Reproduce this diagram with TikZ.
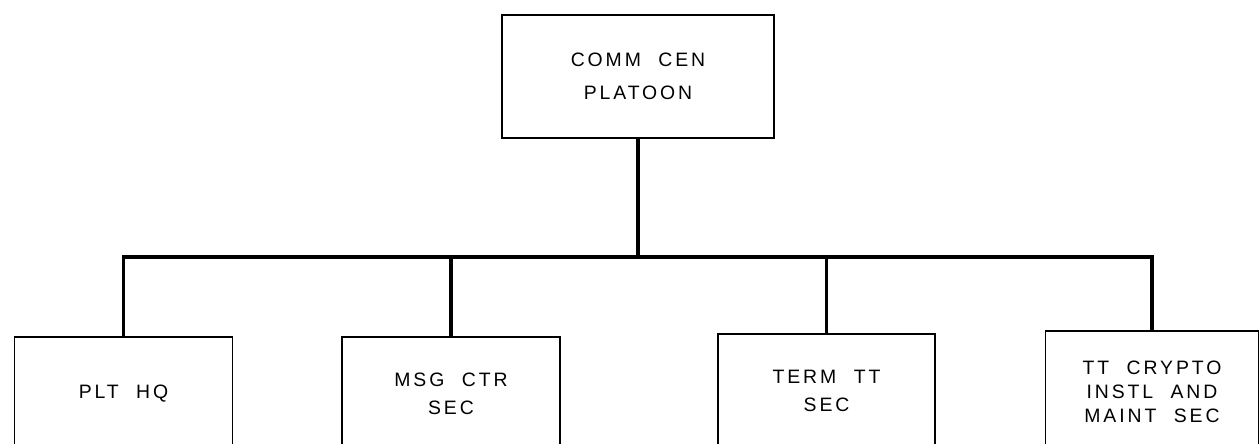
\documentclass[tikz,border=0pt]{standalone}
\usepackage{fontspec}
\newfontfamily\lettering{Liberation Sans}[LetterSpace=15,WordSpace=2.1]
\usetikzlibrary{positioning}
\tikzset{
  unit/.style ={draw, rectangle, line width=0.9pt, align=center, inner sep=0pt,
                font=\lettering\fontsize{9.7}{14}\selectfont},
  sec/.style  ={unit, minimum width=109pt, minimum height=57pt},
  wire/.style ={line width=1.6pt},
}
\begin{document}
\begin{tikzpicture}[x=0.5pt,y=-0.5pt]
\useasboundingbox (0,0) rectangle (1259,444);
% platoon and its four sections
\node[unit, minimum width=136pt, minimum height=61.5pt,
      font=\lettering\fontsize{9.7}{16.5}\selectfont] (plt) at (638,76.5) {COMM CEN\\PLATOON};
\node[sec] (hq)     at (123.5,394) {PLT HQ};
\node[sec] (msg)    at (451,394)   {MSG CTR\\SEC};
\node[sec, minimum width=108.5pt] (term) at (826.5,391) {TERM TT\\SEC};
\node[sec, minimum width=106.5pt, minimum height=61pt,
      font=\lettering\fontsize{9.7}{12}\selectfont]
  (crypto) at (1152,392) {TT CRYPTO\\INSTL AND\\MAINT SEC};
\coordinate (bus) at (638,257);
\draw[wire] (plt) -- (bus);
\draw[wire] (hq.north) |- (bus) -| (crypto.north);
\draw[wire] (msg.north) -- (msg.north |- bus);
\draw[wire] (term.north) -- (term.north |- bus);
\end{tikzpicture}
\end{document}
